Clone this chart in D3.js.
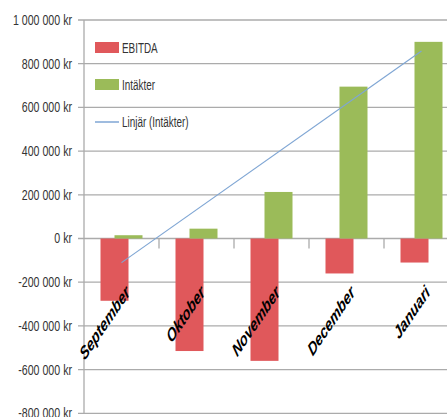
<!DOCTYPE html>
<html>
<head>
<meta charset="utf-8">
<script src="https://cdn.jsdelivr.net/npm/d3@7"></script>
<style>
  body { margin: 0; background: #fff; overflow: hidden; }
  svg { display: block; }
  text { font-family: "Liberation Sans", Arial, sans-serif; fill: #333; }
</style>
</head>
<body>
<div id="chart"></div>
<script>
// data
const months = ['September', 'Oktober', 'November', 'December', 'Januari'];
const ebitda = [-285000, -515000, -560000, -160000, -110000];
const intakter = [15000, 45000, 213000, 695000, 900000];
const yTicks = [1000000, 800000, 600000, 400000, 200000, 0, -200000, -400000, -600000, -800000];
const legendLabels = ['EBITDA', 'Intäkter', 'Linjär (Intäkter)'];

const WIDTH = 447, HEIGHT = 417;
const RED = '#e0585b', GREEN = '#9bbb59', BLUE = '#7fa6d4', GRID = '#ababab';

const svg = d3.select('#chart').append('svg')
    .attr('width', WIDTH)
    .attr('height', HEIGHT);

// plot area runs off the right edge, like the screenshot
const xScale = d3.scaleBand().domain(months).range([84, 459]).padding(0);
const yScale = d3.scaleLinear().domain([-800000, 1000000]).range([413.3, 20]);

// swedish style number: 1 000 000 kr
function fmtKr(v) {
    let s = d3.format(',')(Math.abs(v)).replace(/,/g, '\u00a0');
    return (v < 0 ? '-' : '') + s + '\u00a0kr';
}

// gridlines
svg.append('g').selectAll('line')
    .data(yTicks)
    .enter()
    .append('line')
    .attr('x1', 78)
    .attr('x2', WIDTH)
    .attr('y1', d => yScale(d))
    .attr('y2', d => yScale(d))
    .attr('stroke', GRID)
    .attr('stroke-width', 1.3);

// vertical axis line
svg.append('line')
    .attr('x1', 84).attr('x2', 84)
    .attr('y1', yScale(1000000)).attr('y2', yScale(-800000))
    .attr('stroke', GRID)
    .attr('stroke-width', 1.3);

// y labels (condensed look)
svg.append('g').selectAll('text')
    .data(yTicks)
    .enter()
    .append('text')
    .attr('transform', d => `translate(72, ${yScale(d)}) scale(0.76, 1)`)
    .attr('text-anchor', 'end')
    .attr('dy', '0.35em')
    .style('font-size', '14px')
    .text(d => fmtKr(d));

// category ticks on the zero line
svg.append('g').selectAll('line')
    .data(months)
    .enter()
    .append('line')
    .attr('x1', d => xScale(d) + xScale.bandwidth())
    .attr('x2', d => xScale(d) + xScale.bandwidth())
    .attr('y1', yScale(0))
    .attr('y2', yScale(0) + 10)
    .attr('stroke', GRID)
    .attr('stroke-width', 1.3);

const BAR_W = 28;
const center = d => xScale(d) + xScale.bandwidth() / 2;

// EBITDA bars
svg.append('g').selectAll('rect')
    .data(months)
    .enter()
    .append('rect')
    .attr('x', (d) => center(d) - 21)
    .attr('width', BAR_W)
    .attr('y', (d, i) => yScale(Math.max(0, ebitda[i])))
    .attr('height', (d, i) => Math.abs(yScale(ebitda[i]) - yScale(0)))
    .attr('fill', RED);

// Intäkter bars
svg.append('g').selectAll('rect')
    .data(months)
    .enter()
    .append('rect')
    .attr('x', (d) => center(d) - 7)
    .attr('width', BAR_W)
    .attr('y', (d, i) => yScale(Math.max(0, intakter[i])))
    .attr('height', (d, i) => Math.abs(yScale(intakter[i]) - yScale(0)))
    .attr('fill', GREEN);

// linear trend of Intäkter (least squares)
let n = intakter.length;
let xs = d3.range(1, n + 1);
let mx = d3.mean(xs), my = d3.mean(intakter);
let slope = d3.sum(xs, (x, i) => (x - mx) * (intakter[i] - my)) / d3.sum(xs, x => (x - mx) * (x - mx));
let icpt = my - slope * mx;
let trend = [icpt + slope * 1, icpt + slope * n];

svg.append('line')
    .attr('x1', center(months[0]))
    .attr('x2', center(months[n - 1]))
    .attr('y1', yScale(trend[0]))
    .attr('y2', yScale(trend[1]))
    .attr('stroke', BLUE)
    .attr('stroke-width', 1.2);

// month labels, rotated
svg.append('g').selectAll('text')
    .data(months)
    .enter()
    .append('text')
    .attr('transform', d => `translate(${center(d) + 6}, 289) scale(0.68, 1) rotate(-45)`)
    .attr('text-anchor', 'end')
    .attr('dy', '0.35em')
    .style('font-size', '18.5px')
    .style('font-weight', 'bold')
    .style('font-style', 'italic')
    .style('fill', '#000')
    .text(d => d);

// legend
let legend = svg.append('g').attr('transform', 'translate(95, 0)');
let legendY = [48, 85, 122];
legend.append('rect').attr('x', 0).attr('y', legendY[0] - 6).attr('width', 24).attr('height', 11).attr('fill', RED);
legend.append('rect').attr('x', 0).attr('y', legendY[1] - 6).attr('width', 24).attr('height', 11).attr('fill', GREEN);
legend.append('line').attr('x1', 0).attr('x2', 24).attr('y1', legendY[2]).attr('y2', legendY[2])
    .attr('stroke', BLUE).attr('stroke-width', 1.5);
legend.selectAll('text.lbl')
    .data(legendLabels)
    .enter()
    .append('text')
    .attr('class', 'lbl')
    .attr('transform', (d, i) => `translate(27, ${legendY[i]}) scale(0.66, 1)`)
    .attr('dy', '0.35em')
    .style('font-size', '15px')
    .text(d => d);
</script>
</body>
</html>
